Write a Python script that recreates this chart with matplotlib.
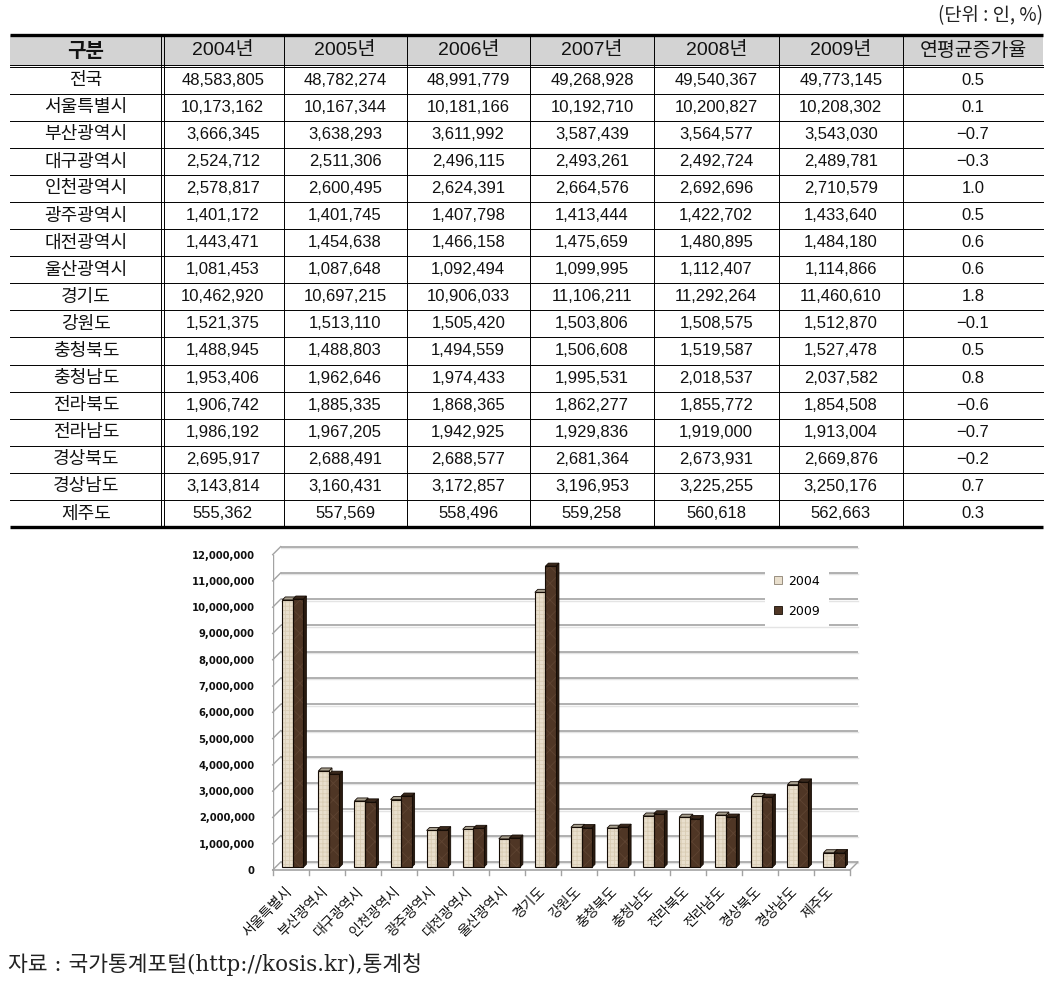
import matplotlib
matplotlib.use('Agg')
import matplotlib.pyplot as plt
from matplotlib.patches import Polygon, Patch, Rectangle
from matplotlib.transforms import offset_copy

# ---------------- data ----------------
regions = ['전국', '서울특별시', '부산광역시', '대구광역시', '인천광역시', '광주광역시',
           '대전광역시', '울산광역시', '경기도', '강원도', '충청북도', '충청남도',
           '전라북도', '전라남도', '경상북도', '경상남도', '제주도']
header = ['구분', '2004년', '2005년', '2006년', '2007년', '2008년', '2009년', '연평균증가율']
pop2004 = [48583805, 10173162, 3666345, 2524712, 2578817, 1401172, 1443471, 1081453,
           10462920, 1521375, 1488945, 1953406, 1906742, 1986192, 2695917, 3143814, 555362]
pop2005 = [48782274, 10167344, 3638293, 2511306, 2600495, 1401745, 1454638, 1087648,
           10697215, 1513110, 1488803, 1962646, 1885335, 1967205, 2688491, 3160431, 557569]
pop2006 = [48991779, 10181166, 3611992, 2496115, 2624391, 1407798, 1466158, 1092494,
           10906033, 1505420, 1494559, 1974433, 1868365, 1942925, 2688577, 3172857, 558496]
pop2007 = [49268928, 10192710, 3587439, 2493261, 2664576, 1413444, 1475659, 1099995,
           11106211, 1503806, 1506608, 1995531, 1862277, 1929836, 2681364, 3196953, 559258]
pop2008 = [49540367, 10200827, 3564577, 2492724, 2692696, 1422702, 1480895, 1112407,
           11292264, 1508575, 1519587, 2018537, 1855772, 1919000, 2673931, 3225255, 560618]
pop2009 = [49773145, 10208302, 3543030, 2489781, 2710579, 1433640, 1484180, 1114866,
           11460610, 1512870, 1527478, 2037582, 1854508, 1913004, 2669876, 3250176, 562663]
growth = [0.5, 0.1, -0.7, -0.3, 1.0, 0.5, 0.6, 0.6, 1.8, -0.1, 0.5, 0.8, -0.6, -0.7, -0.2, 0.7, 0.3]

chart_regions = regions[1:]
chart_2004 = pop2004[1:]
chart_2009 = pop2009[1:]
legend_labels = ['2004', '2009']
yticks = list(range(0, 12000001, 1000000))

unit_text = '(단위 : 인, %)'
source_text = '자료 : 국가통계포털(http://kosis.kr),통계청'

# ---------------- figure ----------------
W, H = 1053, 984
fig = plt.figure(figsize=(W / 100, H / 100), dpi=100)
fig.patch.set_facecolor('white')
plt.rcParams['hatch.linewidth'] = 0.6

KR = ['Noto Sans CJK KR', 'DejaVu Sans']
NUM = ['Liberation Sans', 'Noto Sans CJK KR']

# ---- table (pixel-space axes) ----
ax0 = fig.add_axes([0, 0, 1, 1])
ax0.set_xlim(0, W)
ax0.set_ylim(H, 0)
ax0.axis('off')

tx0, tx1 = 10, 1043
top_y, head_bot, bot_y = 35, 65.6, 527
col_edges = [tx0, 162, 283.5, 406.5, 530, 654, 778.5, 903, tx1]
nrows = len(regions)
rh = (bot_y - head_bot - 1) / nrows
body_top = head_bot + 1

ax0.add_patch(Rectangle((tx0, top_y), tx1 - tx0, head_bot - top_y, facecolor='#d3d3d3',
                        edgecolor='none', zorder=1))
ax0.plot([tx0, tx1], [top_y, top_y], color='black', lw=2.4, solid_capstyle='butt', zorder=3)
ax0.plot([tx0, tx1], [bot_y, bot_y], color='black', lw=2.4, solid_capstyle='butt', zorder=3)
ax0.plot([tx0, tx1], [head_bot - 1, head_bot - 1], color='black', lw=0.7, zorder=3)
ax0.plot([tx0, tx1], [head_bot + 1, head_bot + 1], color='black', lw=0.7, zorder=3)
for k in range(1, nrows):
    yy = body_top + k * rh
    ax0.plot([tx0, tx1], [yy, yy], color='black', lw=0.7, zorder=3)
# vertical lines
ax0.plot([160.5, 160.5], [top_y, bot_y], color='black', lw=0.7, zorder=3)
ax0.plot([163.5, 163.5], [top_y, bot_y], color='black', lw=0.7, zorder=3)
for xe in col_edges[2:-1]:
    ax0.plot([xe, xe], [top_y, bot_y], color='black', lw=0.7, zorder=3)

centers = [(col_edges[i] + col_edges[i + 1]) / 2 for i in range(len(col_edges) - 1)]
hy = (top_y + head_bot) / 2 + 0.5
for j, h in enumerate(header):
    fam = KR if j in (0, 7) else NUM
    ax0.text(centers[j], hy, h, ha='center', va='center', fontsize=14.5 if j == 0 else 14,
             family=fam, color='#111111', zorder=4, fontweight='bold' if j == 0 else 'normal')

series = [pop2004, pop2005, pop2006, pop2007, pop2008, pop2009]
for r in range(nrows):
    cy = body_top + (r + 0.5) * rh
    ax0.text(centers[0], cy, regions[r], ha='center', va='center', fontsize=13,
             family=KR, color='#111111', zorder=4)
    for c, s in enumerate(series):
        ax0.text(centers[c + 1], cy, f'{s[r]:,}', ha='center', va='center', fontsize=12,
                 family=NUM, color='#111111', zorder=4)
    g = f'{growth[r]:.1f}'.replace('-', '\u2212')
    ax0.text(centers[7], cy, g, ha='center', va='center', fontsize=12,
             family=['Liberation Sans', 'DejaVu Sans'], color='#111111', zorder=4)

ax0.text(tx1, 16, unit_text, ha='right', va='center', fontsize=13.5, family=KR, color='#222222')
ax0.text(8, 965, source_text, ha='left', va='center', fontsize=15.5,
         family=['DejaVu Serif', 'Noto Sans CJK KR'], color='#222222')

# ---------------- 3D-looking bar chart ----------------
ox, oy = 272.7, 870.0           # front origin in pixels
pcat, pM = 36.08, 26.28          # pixels per category, pixels per million
xmax, ymax = 16.3, 12.45e6
ax = fig.add_axes([ox / W, (H - oy) / H, xmax * pcat / W, ymax / 1e6 * pM / H])
ax.set_xlim(0, xmax)
ax.set_ylim(0, ymax)
ax.patch.set_visible(False)
for sp in ax.spines.values():
    sp.set_visible(False)

n = len(chart_regions)
DX = 8 / pcat
DY = 8 / pM * 1e6
ddx = 3 / pcat
ddy = 3 / pM * 1e6
base = 2.7 / pM * 1e6
grid_c = '#a3a3a3'

# back wall gridlines + side wall diagonals
for v in yticks:
    ax.plot([DX, n + DX], [v + DY, v + DY], color=grid_c, lw=1.2, zorder=1,
            solid_capstyle='butt', clip_on=False)
    ax.plot([DX, n + DX], [v + DY - 0.05e6, v + DY - 0.05e6], color='#e4e4e4', lw=1.0,
            zorder=0.9, clip_on=False)
    ax.plot([0, DX], [v, v + DY], color=grid_c, lw=1.0, zorder=1, clip_on=False)
ax.plot([0, 0], [0, yticks[-1]], color=grid_c, lw=1.0, zorder=1)
# floor
ax.plot([0, n], [0, 0], color=grid_c, lw=1.2, zorder=1, clip_on=False)
ax.plot([n, n + DX], [0, DY], color=grid_c, lw=1.0, zorder=1, clip_on=False)
for i in range(n + 1):
    ax.plot([i, i], [0, -5 / pM * 1e6], color=grid_c, lw=1.0, zorder=1, clip_on=False)

def bar3d(x0, x1, val, front, top, side, hatch, hcol):
    y0, y1 = base, base + val
    ec = '#150c05'
    ax.add_patch(Polygon([(x1, y0), (x1 + ddx, y0 + ddy), (x1 + ddx, y1 + ddy), (x1, y1)],
                         closed=True, facecolor=side, edgecolor=ec, lw=0.6, zorder=3))
    ax.add_patch(Polygon([(x0, y1), (x1, y1), (x1 + ddx, y1 + ddy), (x0 + ddx, y1 + ddy)],
                         closed=True, facecolor=top, edgecolor=ec, lw=0.6, zorder=3))
    ax.add_patch(Rectangle((x0, y0), x1 - x0, val, facecolor=front, edgecolor='none',
                           lw=0, zorder=3))
    ax.add_patch(Rectangle((x0, y0), x1 - x0, val, facecolor='none', edgecolor=hcol,
                           hatch=hatch, lw=0, zorder=3.1))
    ax.add_patch(Rectangle((x0, y0), x1 - x0, val, facecolor='none', edgecolor=ec,
                           lw=0.8, zorder=3.2))

c04 = ('#e9dfcd', '#a9a190', '#cbc0ab')
c09 = ('#4f3625', '#3a281b', '#2a1b10')
for i in range(n):
    bar3d(i + 0.266, i + 0.56, chart_2004[i], *c04, '++++', '#d9ccb4')
    bar3d(i + 0.56, i + 0.85, chart_2009[i], *c09, 'xx', '#5f4432')

ax.set_xticks([])
ax.set_yticks(yticks)
ax.set_yticklabels([f'{v:,}' for v in yticks], fontsize=7.2, fontweight='bold',
                   family='DejaVu Sans', color='#111111')
ax.tick_params(axis='y', length=0, pad=13)

lab_tr = offset_copy(ax.transData, fig=fig, x=-6, y=-14, units='dots')
for i, name in enumerate(chart_regions):
    ax.text(i + 0.5, 0, name, rotation=45, ha='right', va='top', rotation_mode='anchor',
            fontsize=10, family=KR, color='#111111', transform=lab_tr)

handles = [Patch(facecolor=c04[0], edgecolor='#8a8070', lw=0.6),
           Patch(facecolor=c09[0], edgecolor='#150c05', lw=0.6)]
leg = ax.legend(handles, legend_labels, loc='upper left', bbox_to_anchor=(765 / W, 1 - 566 / H),
                bbox_transform=fig.transFigure, borderaxespad=0, borderpad=0.7,
                frameon=True, fancybox=False, framealpha=1, edgecolor='none',
                prop={'family': 'DejaVu Sans', 'size': 9}, handlelength=0.64,
                handleheight=0.64, handletextpad=0.5, labelspacing=1.35)
leg.set_zorder(5)

fig.savefig('out.png', dpi=100, facecolor='white')
